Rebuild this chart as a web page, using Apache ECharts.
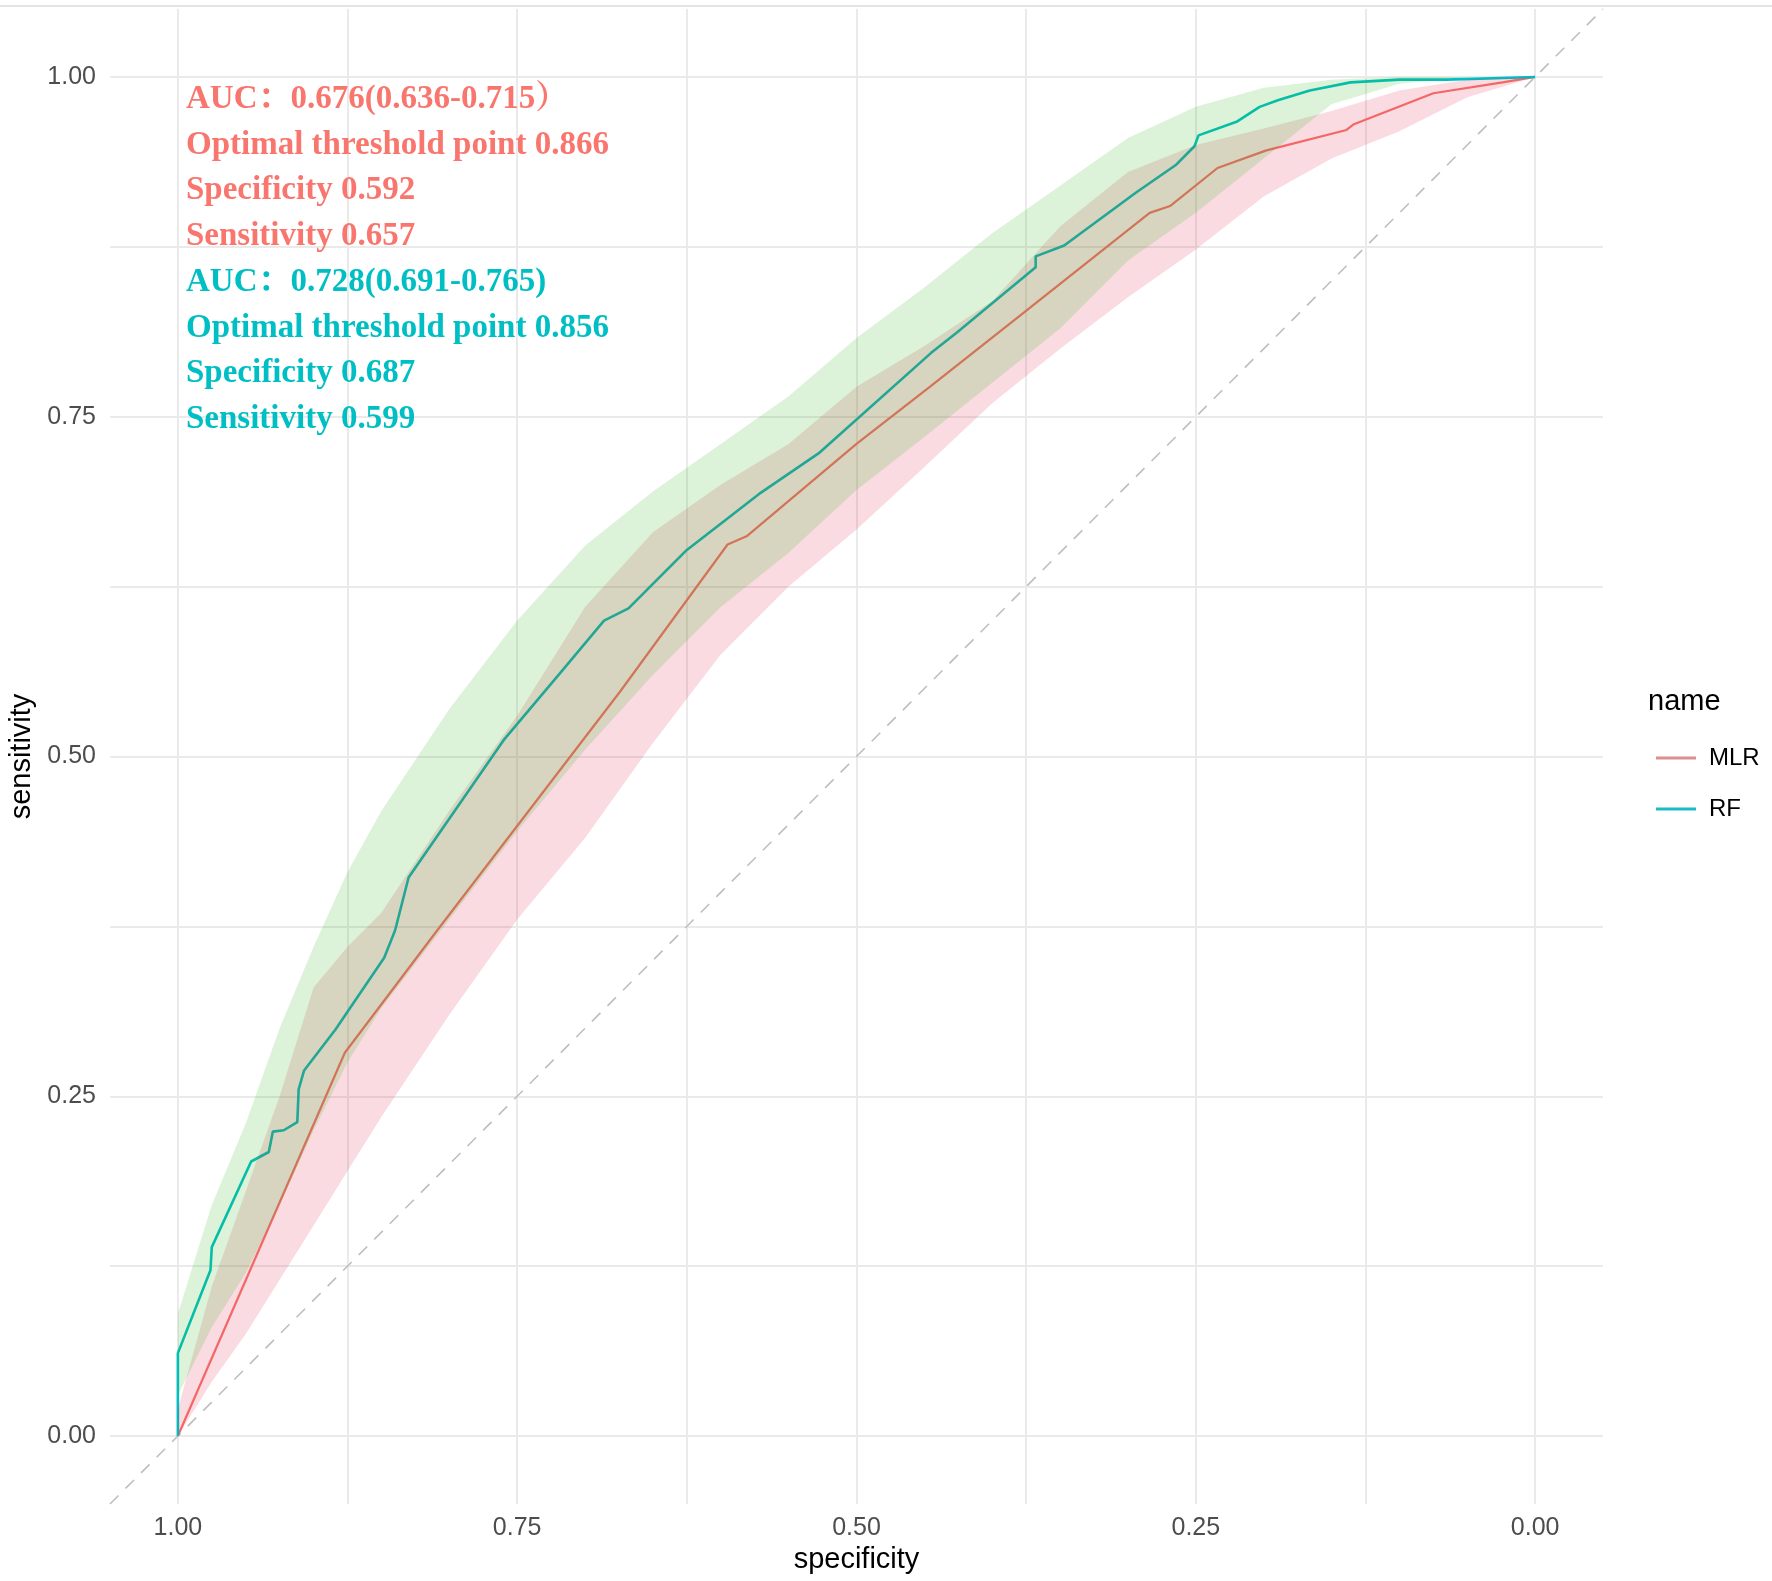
<!DOCTYPE html>
<html>
<head>
<meta charset="utf-8">
<title>ROC MLR vs RF</title>
<script src="https://cdn.jsdelivr.net/npm/echarts@6/dist/echarts.min.js"></script>
<style>
  html, body { margin: 0; padding: 0; background: #fff; }
  #main { width: 1772px; height: 1581px; }
</style>
</head>
<body>
<div id="main"></div>
<script>
// ROC curves (specificity, sensitivity)
const mlrSpec = [1, 0.877, 0.809, 0.674, 0.595, 0.581, 0.500, 0.446, 0.380, 0.284, 0.269, 0.234, 0.198, 0.139, 0.134, 0.075, 0.024, 0];
const mlrSens = [0, 0.282, 0.372, 0.548, 0.656, 0.662, 0.730, 0.772, 0.824, 0.900, 0.905, 0.933, 0.946, 0.961, 0.965, 0.988, 0.996, 1];

const rfSpec = [1, 1, 0.976, 0.975, 0.946, 0.933, 0.930, 0.922, 0.912, 0.911, 0.907, 0.884, 0.848, 0.840, 0.830, 0.760, 0.717, 0.686, 0.668, 0.625, 0.572, 0.528, 0.445, 0.426, 0.368, 0.368, 0.347, 0.294, 0.265, 0.251, 0.248, 0.220, 0.203, 0.189, 0.166, 0.136, 0.100, 0.065, 0];
const rfSens = [0, 0.061, 0.122, 0.139, 0.202, 0.209, 0.224, 0.225, 0.231, 0.255, 0.269, 0.299, 0.352, 0.372, 0.411, 0.512, 0.563, 0.600, 0.609, 0.652, 0.693, 0.723, 0.797, 0.812, 0.860, 0.868, 0.876, 0.915, 0.935, 0.949, 0.957, 0.967, 0.978, 0.983, 0.990, 0.996, 0.998, 0.998, 1];

// confidence bands of sensitivity
const bandSpec = [1, 0.975, 0.95, 0.925, 0.9, 0.875, 0.85, 0.8, 0.75, 0.7, 0.65, 0.6, 0.55, 0.5, 0.45, 0.4, 0.35, 0.3, 0.25, 0.2, 0.15, 0.1, 0.05, 0];
const mlrLower = [0, 0.040, 0.075, 0.115, 0.155, 0.195, 0.235, 0.310, 0.380, 0.440, 0.510, 0.575, 0.625, 0.667, 0.713, 0.760, 0.800, 0.838, 0.873, 0.912, 0.940, 0.960, 0.985, 1];
const mlrUpper = [0.020, 0.110, 0.180, 0.250, 0.330, 0.360, 0.385, 0.460, 0.530, 0.610, 0.665, 0.700, 0.730, 0.772, 0.802, 0.835, 0.890, 0.930, 0.950, 0.962, 0.975, 0.990, 0.998, 1];
const rfLower = [0.030, 0.080, 0.120, 0.170, 0.225, 0.275, 0.315, 0.380, 0.445, 0.505, 0.560, 0.610, 0.650, 0.696, 0.735, 0.775, 0.815, 0.865, 0.900, 0.940, 0.980, 0.995, 1, 1];
const rfUpper = [0.090, 0.170, 0.230, 0.300, 0.360, 0.415, 0.460, 0.535, 0.600, 0.655, 0.695, 0.730, 0.765, 0.808, 0.845, 0.885, 0.920, 0.955, 0.978, 0.992, 0.998, 1, 1, 1];

// chance line, corner to corner of the panel
const chanceLine = [[1.05, -0.05], [-0.05, 1.05]];

const gridValues = [0, 0.125, 0.25, 0.375, 0.5, 0.625, 0.75, 0.875, 1];
const tickLabels = [0, 0.25, 0.5, 0.75, 1];

const mlrText = ['AUC：0.676(0.636-0.715）', 'Optimal threshold point 0.866', 'Specificity 0.592', 'Sensitivity 0.657'];
const rfText = ['AUC：0.728(0.691-0.765)', 'Optimal threshold point 0.856', 'Specificity 0.687', 'Sensitivity 0.599'];

const RED = '#F8766D';
const TEAL = '#00BFC4';
const SANS = '"Liberation Sans", Arial, sans-serif';

function zip(a, b) {
  return a.map((v, i) => [v, b[i]]);
}

// one polygon per band: upper edge forward, lower edge back
function ribbon(name, lower, upper, fill) {
  const rows = bandSpec.map((s, i) => [s, lower[i], upper[i]]);
  return {
    type: 'custom',
    name: name + ' band',
    silent: true,
    z: 3,
    data: rows,
    encode: {x: 0, y: [1, 2]},
    renderItem: function (params, api) {
      if (params.dataIndex !== 0) return null;
      const pts = [];
      rows.forEach(r => pts.push(api.coord([r[0], r[2]])));
      for (let i = rows.length - 1; i >= 0; i--) pts.push(api.coord([rows[i][0], rows[i][1]]));
      return {type: 'polygon', shape: {points: pts}, style: {fill: fill}};
    }
  };
}

const annotations = mlrText.map(t => ({color: RED, text: t}))
  .concat(rfText.map(t => ({color: TEAL, text: t})));

const chart = echarts.init(document.getElementById('main'));

const axisCommon = {
  type: 'value',
  min: -0.05,
  max: 1.05,
  axisLine: {show: false},
  axisTick: {show: false, customValues: gridValues},
  splitLine: {show: true, lineStyle: {color: '#EAEAEA', width: 2}},
  axisLabel: {
    customValues: tickLabels,
    color: '#4D4D4D',
    fontSize: 25,
    fontFamily: SANS,
    formatter: v => v.toFixed(2)
  },
  nameLocation: 'middle',
  nameTextStyle: {color: '#000', fontSize: 29, fontFamily: SANS}
};

chart.setOption({
  backgroundColor: '#fff',
  animation: false,
  grid: {left: 110, right: 169, top: 9, bottom: 77, containLabel: false, outerBoundsMode: 'none'},
  xAxis: Object.assign({}, axisCommon, {
    inverse: true,
    name: 'specificity',
    nameGap: 40,
    axisLabel: Object.assign({}, axisCommon.axisLabel, {margin: 12})
  }),
  yAxis: Object.assign({}, axisCommon, {
    name: 'sensitivity',
    nameGap: 72,
    axisLabel: Object.assign({}, axisCommon.axisLabel, {margin: 14})
  }),
  legend: {
    data: [
      {name: 'MLR', itemStyle: {color: '#DC8F8F'}},
      {name: 'RF', itemStyle: {color: '#1CBCC2'}}
    ],
    orient: 'vertical',
    left: 1651,
    top: 741,
    itemWidth: 40,
    itemHeight: 20,
    itemGap: 27,
    icon: 'path://M0,8.5 L40,8.5 L40,11.5 L0,11.5 Z',
    textStyle: {color: '#000', fontSize: 24, fontFamily: SANS, padding: [0, 0, 0, 8]}
  },
  graphic: [
    {
      type: 'line',
      shape: {x1: 0, y1: 6, x2: 1772, y2: 6},
      style: {stroke: '#E4E4E4', lineWidth: 2}
    },
    {
      type: 'text',
      left: 1648,
      top: 687,
      style: {text: 'name', fill: '#000', font: '29px ' + SANS}
    }
  ].concat(annotations.map((a, i) => ({
    type: 'text',
    left: 186,
    top: 83 + i * 45.7,
    z: 10,
    style: {
      text: a.text,
      fill: a.color,
      font: 'bold 33px "Liberation Serif", "Noto Serif CJK SC", "Noto Sans CJK SC", serif'
    }
  }))),
  series: [
    {
      type: 'line',
      name: 'chance',
      data: chanceLine,
      symbol: 'none',
      silent: true,
      z: 1,
      lineStyle: {color: '#BEBEBE', width: 1.6, type: [12, 10]}
    },
    {
      type: 'line',
      name: 'MLR',
      data: zip(mlrSpec, mlrSens),
      symbol: 'none',
      color: RED,
      z: 2,
      lineStyle: {width: 2.2}
    },
    {
      type: 'line',
      name: 'RF',
      data: zip(rfSpec, rfSens),
      symbol: 'none',
      color: TEAL,
      z: 2,
      lineStyle: {width: 2.6}
    },
    ribbon('MLR', mlrLower, mlrUpper, 'rgba(220,30,70,0.16)'),
    ribbon('RF', rfLower, rfUpper, 'rgba(40,180,20,0.16)')
  ]
});
</script>
</body>
</html>
